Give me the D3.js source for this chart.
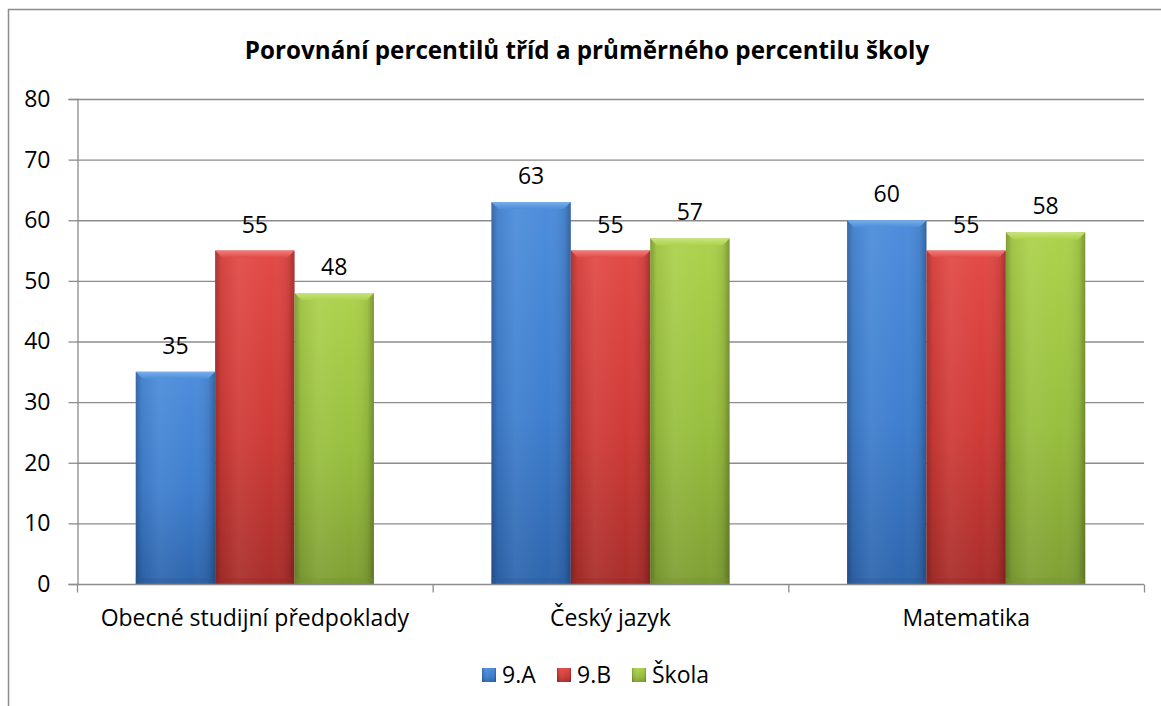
<!DOCTYPE html>
<html>
<head>
<meta charset="utf-8">
<script src="https://cdn.jsdelivr.net/npm/d3@7"></script>
<style>
  html, body { margin: 0; padding: 0; background: #fff; }
  svg { display: block; }
  text { font-family: "Open Sans", Lato, sans-serif; fill: #000; }
</style>
</head>
<body>
<svg id="chart" width="1161" height="706"></svg>
<script>
// Chart data
const title = "Porovnání percentilů tříd a průměrného percentilu školy";
const categories = ["Obecné studijní předpoklady", "Český jazyk", "Matematika"];
const seriesNames = ["9.A", "9.B", "Škola"];
const values9A = [35, 63, 60];
const values9B = [55, 55, 55];
const valuesSkola = [48, 57, 58];
const yTicks = [0, 10, 20, 30, 40, 50, 60, 70, 80];

const seriesValues = [values9A, values9B, valuesSkola];
const palette = [
  { top: "#4d8ddb", mid: "#3f7fcf", bottom: "#2e66ad", edge: "#2a5c9c", bevel: "#79aee8" },
  { top: "#e24a46", mid: "#cf3b37", bottom: "#a92e2b", edge: "#9b2a27", bevel: "#ee7d79" },
  { top: "#acd24c", mid: "#98bf3f", bottom: "#7f9f34", edge: "#75932f", bevel: "#c7e37c" }
];
const FONT = 23;

const svg = d3.select("#chart");
const defs = svg.append("defs");

// Outer frame
svg.append("rect")
  .attr("x", 8.5).attr("y", 9.5)
  .attr("width", 1170).attr("height", 720)
  .attr("fill", "#fff").attr("stroke", "#8c8c8c").attr("stroke-width", 1.5);

const plot = { left: 77, right: 1144, top: 99, bottom: 584 };

const y = d3.scaleLinear().domain([0, 80]).range([plot.bottom, plot.top]);
const x0 = d3.scaleBand().domain(categories).range([plot.left, plot.right]).padding(0);
const x1 = d3.scaleBand().domain(seriesNames).range([0, x0.bandwidth()])
  .paddingInner(0).paddingOuter(0.74);

// Title
svg.append("text")
  .attr("x", 587).attr("y", 59)
  .attr("text-anchor", "middle")
  .attr("font-size", 24.2).attr("font-weight", 700)
  .text(title);

// Horizontal gridlines
svg.append("g")
  .selectAll("line")
  .data(yTicks.filter(d => d > 0))
  .join("line")
  .attr("x1", plot.left).attr("x2", plot.right)
  .attr("y1", d => y(d) + 0.5).attr("y2", d => y(d) + 0.5)
  .attr("stroke", "#8c8c8c").attr("stroke-width", 1.3);

// Y axis
const yAxis = svg.append("g")
  .attr("transform", `translate(${plot.left + 0.5},0)`)
  .call(d3.axisLeft(y).tickValues(yTicks).tickSize(9).tickPadding(18));
yAxis.select(".domain").attr("stroke", "#8c8c8c").attr("stroke-width", 1.3);
yAxis.selectAll(".tick line").attr("stroke", "#8c8c8c").attr("stroke-width", 1.3);
yAxis.selectAll(".tick text")
  .attr("font-family", "'Open Sans', Lato, sans-serif")
  .attr("font-size", FONT).attr("fill", "#000");

// Gradients for the bars
palette.forEach((c, i) => {
  const gv = defs.append("linearGradient")
    .attr("id", `grad-v-${i}`).attr("x1", 0).attr("y1", 0).attr("x2", 0).attr("y2", 1);
  gv.append("stop").attr("offset", "0%").attr("stop-color", c.top);
  gv.append("stop").attr("offset", "55%").attr("stop-color", c.mid);
  gv.append("stop").attr("offset", "100%").attr("stop-color", c.bottom);

  const gb = defs.append("linearGradient")
    .attr("id", `grad-b-${i}`).attr("x1", 0).attr("y1", 0).attr("x2", 0).attr("y2", 1);
  gb.append("stop").attr("offset", "0%").attr("stop-color", c.bevel);
  gb.append("stop").attr("offset", "100%").attr("stop-color", c.top);
});
const gh = defs.append("linearGradient")
  .attr("id", "grad-h").attr("x1", 0).attr("y1", 0).attr("x2", 1).attr("y2", 0);
gh.append("stop").attr("offset", "0%").attr("stop-color", "#000").attr("stop-opacity", 0.25);
gh.append("stop").attr("offset", "8%").attr("stop-color", "#000").attr("stop-opacity", 0.06);
gh.append("stop").attr("offset", "30%").attr("stop-color", "#fff").attr("stop-opacity", 0.06);
gh.append("stop").attr("offset", "70%").attr("stop-color", "#fff").attr("stop-opacity", 0.0);
gh.append("stop").attr("offset", "92%").attr("stop-color", "#000").attr("stop-opacity", 0.08);
gh.append("stop").attr("offset", "100%").attr("stop-color", "#000").attr("stop-opacity", 0.28);

// Bars
const rows = [];
categories.forEach((cat, ci) => {
  seriesNames.forEach((s, si) => {
    rows.push({ cat, s, si, value: seriesValues[si][ci] });
  });
});

const bars = svg.append("g").selectAll("g.bar")
  .data(rows)
  .join("g").attr("class", "bar");

bars.append("rect")
  .attr("x", d => x0(d.cat) + x1(d.s))
  .attr("y", d => y(d.value))
  .attr("width", x1.bandwidth())
  .attr("height", d => y(0) - y(d.value))
  .attr("fill", d => `url(#grad-v-${d.si})`);

bars.append("rect")
  .attr("x", d => x0(d.cat) + x1(d.s))
  .attr("y", d => y(d.value))
  .attr("width", x1.bandwidth())
  .attr("height", d => y(0) - y(d.value))
  .attr("fill", "url(#grad-h)");

// Bevelled top edge
const bevel = 7;
bars.append("path")
  .attr("d", d => {
    const bx = x0(d.cat) + x1(d.s), bw = x1.bandwidth(), by = y(d.value);
    return `M${bx},${by} L${bx + bw},${by} L${bx + bw - bevel},${by + bevel} L${bx + bevel},${by + bevel} Z`;
  })
  .attr("fill", d => `url(#grad-b-${d.si})`);

// Darker bottom strip
bars.append("rect")
  .attr("x", d => x0(d.cat) + x1(d.s))
  .attr("y", y(0) - 6)
  .attr("width", x1.bandwidth())
  .attr("height", 6)
  .attr("fill", d => palette[d.si].edge)
  .attr("opacity", 0.35);

// Value labels
bars.append("text")
  .attr("x", d => x0(d.cat) + x1(d.s) + x1.bandwidth() / 2)
  .attr("y", d => y(d.value) - 18)
  .attr("text-anchor", "middle")
  .attr("font-size", FONT)
  .text(d => d.value);

// X axis
const xAxis = svg.append("g")
  .attr("transform", `translate(0,${plot.bottom + 0.5})`);
xAxis.append("line")
  .attr("x1", plot.left).attr("x2", plot.right)
  .attr("stroke", "#8c8c8c").attr("stroke-width", 1.3);
xAxis.selectAll("line.div")
  .data([...categories.map(c => x0(c)), plot.right])
  .join("line").attr("class", "div")
  .attr("x1", d => d + 0.5).attr("x2", d => d + 0.5)
  .attr("y1", 0).attr("y2", 8)
  .attr("stroke", "#8c8c8c").attr("stroke-width", 1.3);
xAxis.selectAll("text")
  .data(categories)
  .join("text")
  .attr("x", d => x0(d) + x0.bandwidth() / 2)
  .attr("y", 41)
  .attr("text-anchor", "middle")
  .attr("font-size", FONT)
  .text(d => d);

// Legend
const legendX = [482, 557, 632];
const legend = svg.append("g").selectAll("g")
  .data(seriesNames)
  .join("g")
  .attr("transform", (d, i) => `translate(${legendX[i]},668)`);
legend.append("rect")
  .attr("width", 14).attr("height", 14)
  .attr("fill", (d, i) => `url(#grad-v-${i})`);
legend.append("rect")
  .attr("width", 14).attr("height", 14)
  .attr("fill", "url(#grad-h)");
legend.append("text")
  .attr("x", 20).attr("y", 15)
  .attr("font-size", FONT)
  .text(d => d);
</script>
</body>
</html>
